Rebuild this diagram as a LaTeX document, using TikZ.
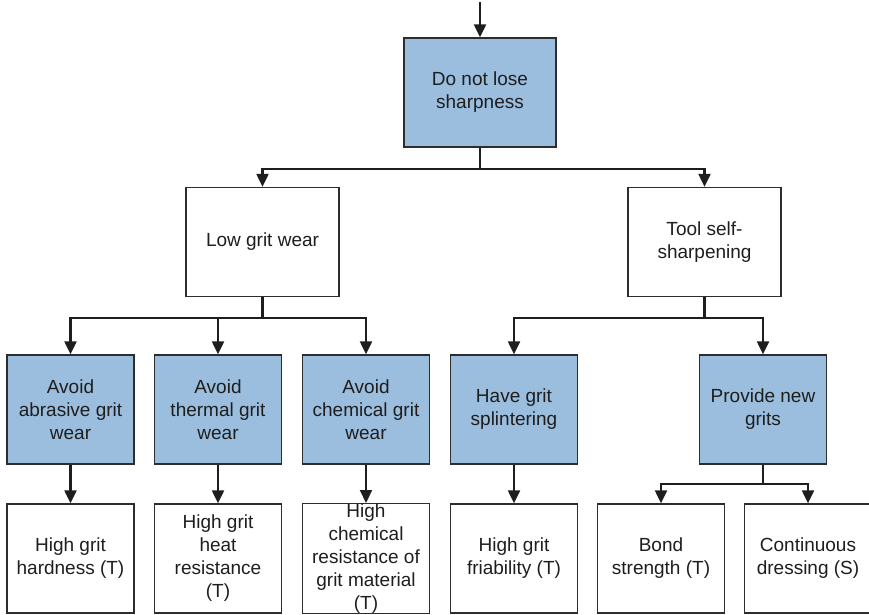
\documentclass[tikz,border=0pt]{standalone}
\usepackage{fontspec}
\setmainfont{Liberation Sans}
\usetikzlibrary{arrows.meta}
\definecolor{goalblue}{RGB}{155,190,223}
\definecolor{edge}{RGB}{45,45,45}
\definecolor{ink}{RGB}{30,30,30}
\tikzset{
  box/.style={draw=edge, line width=1.3pt, rectangle, inner sep=0pt, align=center,
    text=ink, font=\fontsize{19}{23}\selectfont},
  goal/.style={box, fill=goalblue},
  plain/.style={box, fill=white},
  wide/.style={minimum width=152pt, minimum height=109pt},
  narrow/.style={minimum width=127pt, minimum height=109pt},
  arr/.style={draw=ink, line width=2.1pt, -{Triangle[length=13pt,width=12pt]}},
  link/.style={draw=ink, line width=2.1pt}
}
\begin{document}
\begin{tikzpicture}[x=1pt,y=-1pt]
\useasboundingbox (0,0) rectangle (869,614);

% level 0
\node[goal, wide] (top) at (480,92.5) {Do not lose\\sharpness};
\coordinate (entry) at (480,2);

% level 1
\node[plain, wide, minimum width=153pt] (low) at (262.5,242) {Low grit wear};
\node[plain, wide, minimum width=153pt] (tool) at (704.5,242) {Tool self-\\sharpening};

% level 2
\node[goal, narrow] (a1) at (70.5,409.5) {Avoid\\abrasive grit\\wear};
\node[goal, narrow] (a2) at (218,409.5) {Avoid\\thermal grit\\wear};
\node[goal, narrow] (a3) at (366,409.5) {Avoid\\chemical grit\\wear};
\node[goal, narrow] (a4) at (514,409.5) {Have grit\\splintering};
\node[goal, narrow] (a5) at (763,409.5) {Provide new\\grits};

% level 3
\node[plain, narrow] (b1) at (70.5,558.5) {High grit\\hardness (T)};
\node[plain, narrow] (b2) at (218,558.5) {High grit\\heat\\resistance\\(T)};
\node[plain, narrow] (b3) at (366,558.5) {High\\chemical\\resistance of\\grit material\\(T)};
\node[plain, narrow] (b4) at (514,558.5) {High grit\\friability (T)};
\node[plain, narrow] (b5) at (661,558.5) {Bond\\strength (T)};
\node[plain, narrow] (b6) at (808,558.5) {Continuous\\dressing (S)};

% connectors
\draw[arr] (entry) -- (top.north);
\draw[link] (top.south) -- ++(0,21) coordinate (j0);
\draw[arr] (j0) -| (low.north);
\draw[arr] (j0) -| (tool.north);

\draw[link] (low.south) -- ++(0,21) coordinate (j1);
\draw[arr] (j1) -| (a1.north);
\draw[arr] (j1) -| (a2.north);
\draw[arr] (j1) -| (a3.north);

\draw[link] (tool.south) -- ++(0,21) coordinate (j2);
\draw[arr] (j2) -| (a4.north);
\draw[arr] (j2) -| (a5.north);

\draw[arr] (a1.south) -- (b1.north);
\draw[arr] (a2.south) -- (b2.north);
\draw[arr] (a3.south) -- (b3.north);
\draw[arr] (a4.south) -- (b4.north);

\draw[link] (a5.south) -- ++(0,19) coordinate (j3);
\draw[arr] (j3) -| (b5.north);
\draw[arr] (j3) -| (b6.north);
\end{tikzpicture}
\end{document}
